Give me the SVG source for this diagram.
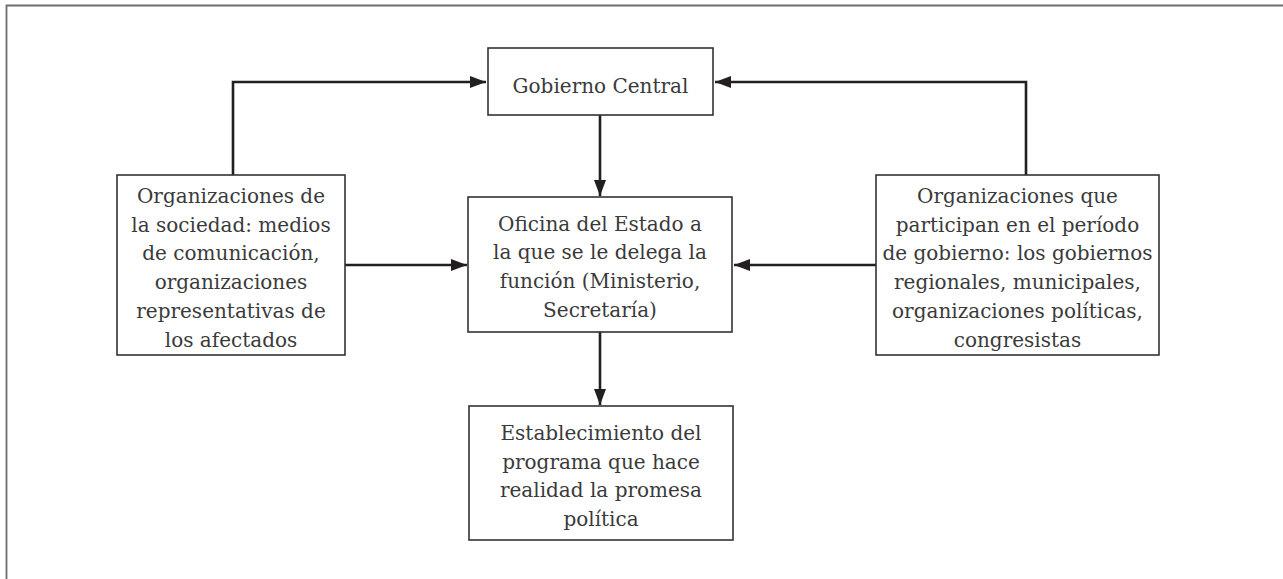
<svg xmlns="http://www.w3.org/2000/svg" width="1283" height="579" viewBox="0 0 1283 579">
<defs>
<style>
.box{fill:#fff;stroke:#333;stroke-width:1.6}
.t{font-family:"DejaVu Serif","Liberation Serif",serif;font-size:20px;fill:#3a3a3a;text-anchor:middle}
.c{fill:none;stroke:#231f20;stroke-width:2.6}
.frame{fill:none;stroke:#6d6d6d;stroke-width:1.8}
</style>
<marker id="ah" viewBox="0 0 16 12" refX="16" refY="6" markerWidth="16" markerHeight="12" markerUnits="userSpaceOnUse" orient="auto">
<path d="M0,0 L16,6 L0,12 z" fill="#231f20"/>
</marker>
</defs>
<rect width="1283" height="579" fill="#fff"/>
<path class="frame" d="M6.5,579 V5.5 H1283"/>
<g id="connectors">
<path class="c" d="M233,175 V82 H486" marker-end="url(#ah)"/>
<path class="c" d="M1026,175 V82 H715" marker-end="url(#ah)"/>
<path class="c" d="M600,115 V196" marker-end="url(#ah)"/>
<path class="c" d="M345,265 H467" marker-end="url(#ah)"/>
<path class="c" d="M876,265 H734" marker-end="url(#ah)"/>
<path class="c" d="M600,332 V405" marker-end="url(#ah)"/>
</g>
<g id="gobierno">
<rect class="box" x="488" y="48" width="225" height="67"/>
<text class="t" x="600.5" y="93">Gobierno Central</text>
</g>
<g id="sociedad">
<rect class="box" x="117" y="175" width="228" height="180"/>
<text class="t" x="231" y="203">Organizaciones de</text>
<text class="t" x="231" y="231.7">la sociedad: medios</text>
<text class="t" x="231" y="260.4">de comunicación,</text>
<text class="t" x="231" y="289.1">organizaciones</text>
<text class="t" x="231" y="317.8">representativas de</text>
<text class="t" x="231" y="346.5">los afectados</text>
</g>
<g id="oficina">
<rect class="box" x="468" y="197" width="264" height="135"/>
<text class="t" x="600" y="230.5">Oficina del Estado a</text>
<text class="t" x="600" y="259.2">la que se le delega la</text>
<text class="t" x="600" y="287.9">función (Ministerio,</text>
<text class="t" x="600" y="316.6">Secretaría)</text>
</g>
<g id="participan">
<rect class="box" x="876" y="175" width="283" height="180"/>
<text class="t" x="1017.5" y="203">Organizaciones que</text>
<text class="t" x="1017.5" y="231.7">participan en el período</text>
<text class="t" x="1017.5" y="260.4">de gobierno: los gobiernos</text>
<text class="t" x="1017.5" y="289.1">regionales, municipales,</text>
<text class="t" x="1017.5" y="317.8">organizaciones políticas,</text>
<text class="t" x="1017.5" y="346.5">congresistas</text>
</g>
<g id="establecimiento">
<rect class="box" x="469" y="406" width="264" height="134"/>
<text class="t" x="601" y="440">Establecimiento del</text>
<text class="t" x="601" y="468.7">programa que hace</text>
<text class="t" x="601" y="497.4">realidad la promesa</text>
<text class="t" x="601" y="526.1">política</text>
</g>
</svg>
